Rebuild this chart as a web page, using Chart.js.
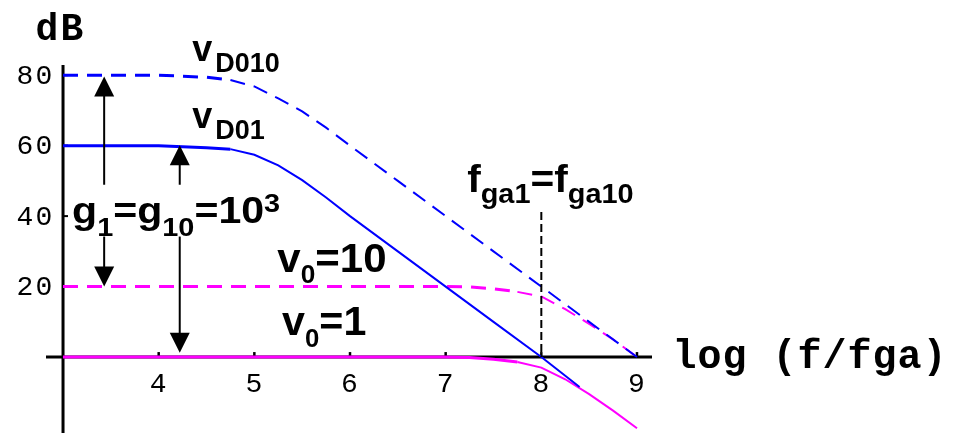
<!DOCTYPE html>
<html>
<head>
<meta charset="utf-8">
<script src="https://cdn.jsdelivr.net/npm/chart.js"></script>
<style>
  html, body { margin: 0; padding: 0; background: #fff; }
  #caja { width: 965px; height: 435px; }
</style>
</head>
<body>
<div id="caja"><canvas id="bode"></canvas></div>
<script>
// eje x: log(f/fga), eje y: ganancia en dB

// lazo abierto con ganancia 10 (80 dB)
var xD010 = [3, 4, 4.5, 4.75, 5, 5.25, 5.5, 5.75, 6, 6.5, 7, 7.5, 8, 8.5, 9];
var vD010 = [80, 80, 79.4, 78.6, 76.8, 73.4, 69.7, 65.1, 60, 50, 40, 30, 20, 10, 0];
// lazo abierto con ganancia 1 (60 dB)
var xD01 = [3, 4, 4.5, 4.75, 5, 5.25, 5.5, 5.75, 6, 6.5, 7, 7.5, 8, 8.4];
var vD01 = [60, 60, 59.4, 59.0, 57.4, 54.4, 50.2, 45.3, 40, 30, 20, 10, 0, -8.5];
// lazo cerrado v0=10 (20 dB) y v0=1 (0 dB)
var xCerrado = [3, 7, 7.25, 7.5, 7.75, 8, 8.25, 8.5, 8.75, 9];
var v010 = [20, 20, 19.9, 19.4, 18.5, 17.2, 13.6, 9.4, 5.0, 0];
var v01 = [0, 0, -0.1, -0.6, -1.4, -3.0, -6.3, -10.5, -15.2, -20.2];

var ticksX = [4, 5, 6, 7, 8, 9];
var ticksY = [20, 40, 60, 80];

// flechas de la ganancia g (x, desde, hasta) en unidades de la grafica
var flechas = [
  [3.43, 48.9, 79.6],
  [3.43, 34.2, 20],
  [4.22, 48.9, 60.1],
  [4.22, 34.2, 1.2]
];
// linea vertical en fga
var fga = 8, fgaTop = 41.2;

function puntos(xs, ys) {
  var p = [];
  for (var i = 0; i < xs.length; i++) p.push({x: xs[i], y: ys[i]});
  return p;
}

// tramos planos gruesos, tramos con pendiente mas finos
function grosor(ctx) {
  return Math.abs(ctx.p0.parsed.y - ctx.p1.parsed.y) < 1 ? 3 : 2;
}

function serie(nombre, xs, ys, color, dash) {
  return {
    label: nombre,
    data: puntos(xs, ys),
    borderColor: color,
    borderWidth: 3,
    borderDash: dash,
    pointRadius: 0,
    fill: false,
    tension: 0,
    segment: { borderWidth: grosor }
  };
}

// texto con subindices y superindices: [texto, tamaño, desplazamiento]
function textoRico(ctx, x, y, partes, sx) {
  ctx.save();
  ctx.translate(x, y);
  ctx.scale(sx || 1, 1);
  ctx.textAlign = 'left';
  ctx.textBaseline = 'alphabetic';
  var cx = 0;
  partes.forEach(function (p) {
    ctx.font = 'bold ' + p[1] + 'px "Liberation Sans", Arial, sans-serif';
    ctx.fillText(p[0], cx, p[2]);
    cx += ctx.measureText(p[0]).width + (p[3] || 0);
  });
  ctx.restore();
}

// texto monoespaciado letra a letra
function mono(ctx, str, x0, y, adv, size, peso) {
  ctx.font = (peso || 'bold') + ' ' + size + 'px "Liberation Mono", monospace';
  ctx.textAlign = 'center';
  ctx.textBaseline = 'alphabetic';
  for (var i = 0; i < str.length; i++) ctx.fillText(str[i], x0 + adv * i, y);
}

function flecha(ctx, x, y0, y1) {
  var dir = y1 < y0 ? 1 : -1;   // 1 = hacia arriba
  ctx.beginPath();
  ctx.moveTo(x, y0);
  ctx.lineTo(x, y1 + dir * 18);
  ctx.stroke();
  ctx.beginPath();
  ctx.moveTo(x, y1);
  ctx.lineTo(x - 10, y1 + dir * 20);
  ctx.lineTo(x + 10, y1 + dir * 20);
  ctx.closePath();
  ctx.fill();
}

var ejes = {
  id: 'ejes',
  beforeDatasetsDraw: function (chart) {
    var ctx = chart.ctx, a = chart.chartArea;
    var sx = chart.scales.x, sy = chart.scales.y;
    var x3 = sx.getPixelForValue(3), y0 = sy.getPixelForValue(0);
    ctx.save();
    ctx.strokeStyle = '#000';
    ctx.fillStyle = '#000';
    ctx.lineWidth = 3;
    ctx.beginPath();
    ctx.moveTo(a.left, y0); ctx.lineTo(a.right, y0);
    ctx.moveTo(x3, a.top); ctx.lineTo(x3, a.bottom);
    ctx.stroke();
    ctx.lineWidth = 2.5;
    ticksX.forEach(function (v) {
      var px = sx.getPixelForValue(v);
      ctx.beginPath(); ctx.moveTo(px, y0); ctx.lineTo(px, y0 - 5); ctx.stroke();
      mono(ctx, String(v), px - 0.5, y0 + 35, 18, 28, 'normal');
    });
    ctx.lineWidth = 2;
    ticksY.forEach(function (v) {
      var py = sy.getPixelForValue(v);
      ctx.beginPath(); ctx.moveTo(x3, py); ctx.lineTo(x3 + 5, py); ctx.stroke();
      var s = String(v);
      mono(ctx, s, 44 - 19 * (s.length - 1), py + 8.5, 19, 28, 'normal');
    });
    // titulos de los ejes
    mono(ctx, 'dB', a.left + 1, a.top - 25, 25, 38);
    mono(ctx, 'log (f/fga)', a.right + 32.5, y0 + 11, 25, 40);
    ctx.restore();
  },
  afterDatasetsDraw: function (chart) {
    var ctx = chart.ctx;
    var sx = chart.scales.x, sy = chart.scales.y;
    var X = function (v) { return sx.getPixelForValue(v); };
    var Y = function (v) { return sy.getPixelForValue(v); };
    ctx.save();
    ctx.strokeStyle = '#000';
    ctx.fillStyle = '#000';
    ctx.lineWidth = 2;
    flechas.forEach(function (f) { flecha(ctx, X(f[0]), Y(f[1]), Y(f[2])); });

    ctx.setLineDash([8, 4]);
    ctx.beginPath();
    ctx.moveTo(X(fga), Y(fgaTop));
    ctx.lineTo(X(fga), Y(0));
    ctx.stroke();
    ctx.setLineDash([]);

    textoRico(ctx, X(4.35), Y(84.05), [['v', 36, 0, 3], ['D010', 27, 11]]);
    textoRico(ctx, X(4.35), Y(65.04), [['v', 36, 0, 3], ['D01', 27, 11]]);
    textoRico(ctx, X(3.095), Y(38.08), [['g', 37, 0], ['1', 26, 13], ['=', 37, 0], ['g', 37, 0],
      ['10', 26, 13], ['=', 37, 0], ['10', 37, 0], ['3', 26, -11]], 1.11);
    textoRico(ctx, X(5.24), Y(24.12), [['v', 40, 0], ['0', 25, 11], ['=10', 40, 0]], 1.05);
    textoRico(ctx, X(5.29), Y(6.3), [['v', 40, 0], ['0', 25, 12], ['=1', 40, 0]], 1.03);
    textoRico(ctx, X(7.225), Y(46.88), [['f', 38, 0], ['ga1', 27, 11], ['=', 38, 0], ['f', 38, 0],
      ['ga10', 27, 11]], 1.07);
    ctx.restore();
  }
};

var ctx = document.getElementById('bode').getContext('2d');
var chart = new Chart(ctx, {
  type: 'line',
  data: {
    datasets: [
      serie('vD010', xD010, vD010, '#0000ff', [15, 9]),
      serie('vD01', xD01, vD01, '#0000ff', []),
      serie('v0=10', xCerrado, v010, '#ff00ff', [15, 9]),
      serie('v0=1', xCerrado, v01, '#ff00ff', [])
    ]
  },
  options: {
    responsive: true,
    maintainAspectRatio: false,
    animation: false,
    layout: { padding: { left: 46, top: 65, right: 313, bottom: 2 } },
    plugins: { legend: { display: false }, tooltip: { enabled: false } },
    scales: {
      x: { type: 'linear', min: 2.822, max: 9.157, display: false },
      y: { type: 'linear', min: -21.55, max: 82.88, display: false }
    }
  },
  plugins: [ejes]
});
</script>
</body>
</html>
